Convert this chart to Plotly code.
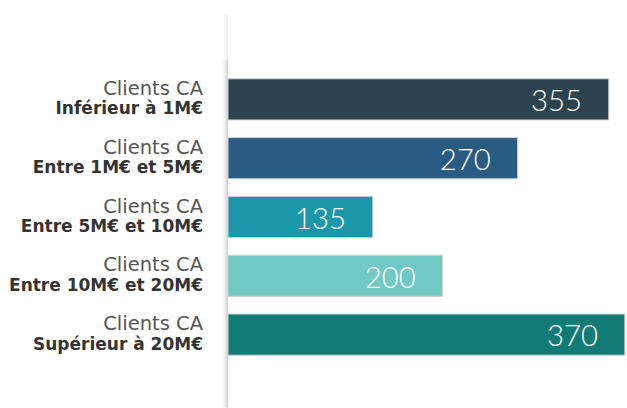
import plotly.graph_objects as go

categories = [
    "Inférieur à 1M€",
    "Entre 1M€ et 5M€",
    "Entre 5M€ et 10M€",
    "Entre 10M€ et 20M€",
    "Supérieur à 20M€",
]
values = [355, 270, 135, 200, 370]
bar_colors = ["#2e4350", "#2a5b82", "#1c97a9", "#71c9c5", "#137b75"]

tick_text = [
    "<span style='color:#555555;font-size:19.5px'>Clients CA</span><br>"
    "<span style='font-size:17px'><b>" + c + "</b></span>"
    for c in categories
]

fig = go.Figure()
fig.add_trace(go.Bar(
    x=values,
    y=categories,
    orientation="h",
    marker=dict(color=bar_colors, line=dict(color="#d0d0d0", width=1)),
    texttemplate="%{x}" + "\u00a0" * 3,
    textposition="inside",
    insidetextanchor="end",
    textfont=dict(color="white", size=30, family="Lato", weight=300),
    width=0.70,
    hoverinfo="skip",
))

# shadow line to the left of the bars
W = 399.0
H = 294.5
def px_x(p):
    return p / W
def px_y(p):
    return (364.5 - p) / H

shades = [(-1, 0.35), (-2, 0.28), (-3, 0.20), (-4, 0.13), (-5, 0.07), (-6, 0.03)]
for off, op in shades:
    fig.add_shape(type="rect", xref="paper", yref="paper",
                  x0=px_x(off), x1=px_x(off + 1), y0=px_y(408), y1=px_y(60),
                  fillcolor="#888888", opacity=op, line=dict(width=0), layer="below")
    fig.add_shape(type="rect", xref="paper", yref="paper",
                  x0=px_x(off), x1=px_x(off + 1), y0=px_y(60), y1=px_y(15),
                  fillcolor="#888888", opacity=op * 0.4, line=dict(width=0), layer="below")

fig.update_layout(
    width=627, height=408,
    margin=dict(l=228, r=0, t=70, b=43.5),
    paper_bgcolor="white", plot_bgcolor="white",
    showlegend=False,
    bargap=0.30,
    font=dict(family="DejaVu Sans", color="#333333"),
    xaxis=dict(visible=False, range=[0, 372], showgrid=False, zeroline=False),
    yaxis=dict(
        autorange="reversed",
        tickmode="array", tickvals=categories, ticktext=tick_text,
        tickfont=dict(size=15, color="#333333", family="DejaVu Sans"),
        showgrid=False, zeroline=False, showline=False, ticks="",
        ticklabelstandoff=24,
    ),
)

fig.write_html("out.html", config={"displayModeBar": False},
               post_script="document.body.style.margin='0';")
